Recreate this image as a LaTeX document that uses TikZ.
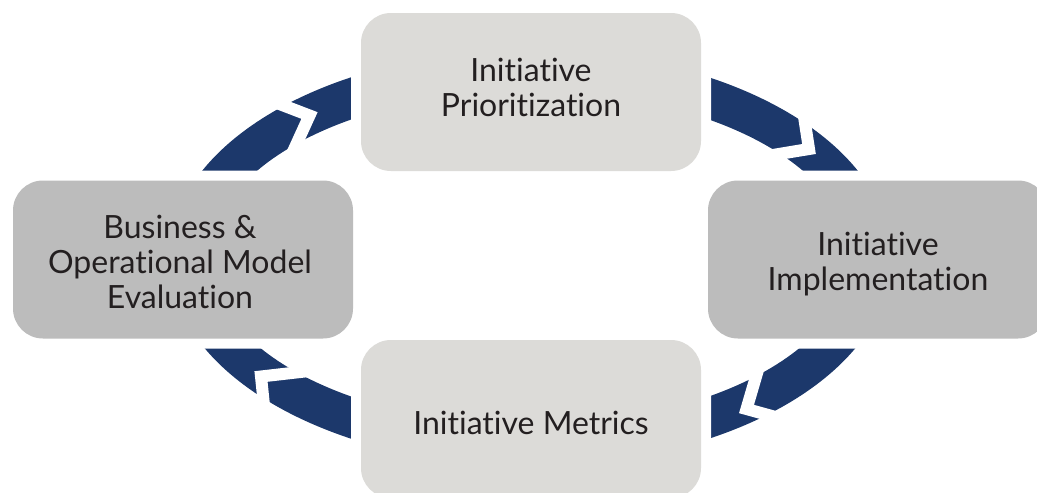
\documentclass[tikz,border=0pt]{standalone}
\usepackage{fontspec}
\setmainfont{Lato}[Ligatures={NoCommon,NoRare,NoContextual}]
\definecolor{navy}{HTML}{1C386B}
\definecolor{lightbox}{HTML}{DCDBD8}
\definecolor{darkbox}{HTML}{BCBCBC}
\definecolor{txt}{HTML}{231F20}
\begin{document}
\begin{tikzpicture}[x=1pt,y=-1pt,
  box/.style={rounded corners=30pt, minimum width=340pt, minimum height=158pt, inner sep=0pt,
    preaction={draw=white, line width=20pt}},
  lbl/.style={anchor=north, inner sep=0pt, align=center, text=txt, font=\fontsize{32}{35}\selectfont},
  gap/.style={draw=white, line width=12pt, line join=miter, miter limit=20}]
\useasboundingbox (0,0) rectangle (1037,493);
\clip (0,0) rectangle (1037,493);
% ring
\fill[navy, even odd rule] (530,258) ellipse [x radius=361pt, y radius=208pt]
  (530,258) ellipse [x radius=320pt, y radius=167pt];
% chevron gaps
\draw[gap] (802.7,108) -- (809,149) -- (765,156.3);
\draw[gap] (760.3,362) -- (746.5,409) -- (790,421);
\draw[gap] (310,370.9) -- (261,376.5) -- (265.3,418);
\draw[gap] (268,99.6) -- (309.5,115.5) -- (289.2,160);
% boxes
\node[box, fill=lightbox] (prio) at (531,92) {};
\node[box, fill=darkbox] (impl) at (878,259.5) {};
\node[box, fill=lightbox] (metr) at (531,419) {};
\node[box, fill=darkbox] (eval) at (183,259.5) {};
% labels
\node[lbl] (priot) at (531,58) {Initiative\\Prioritization};
\node[lbl] (implt) at (878,231.5) {Initiative\\Implementation};
\node[lbl] (metrt) at (531,410.5) {Initiative Metrics};
\node[lbl] (evalt) at (180,214.5) {Business \&\\Operational Model\\Evaluation};
\end{tikzpicture}
\end{document}
